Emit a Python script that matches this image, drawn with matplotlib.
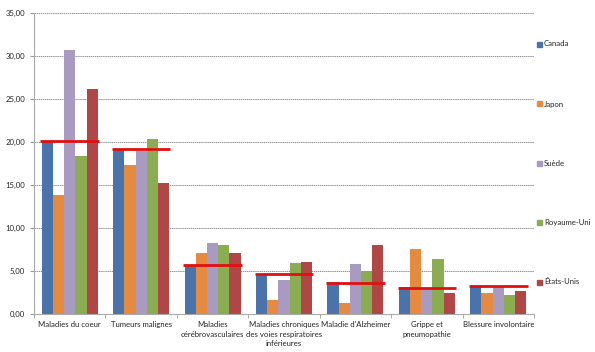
import matplotlib.pyplot as plt
import numpy as np
from matplotlib.ticker import FuncFormatter

categories = ['Maladies du coeur', 'Tumeurs malignes', 'Maladies\ncérébrovasculaires',
              'Maladies chroniques\ndes voies respiratoires\ninférieures', "Maladie d'Alzheimer",
              'Grippe et\npneumopathie', 'Blessure involontaire']
countries = ['Canada', 'Japon', 'Suède', 'Royaume-Uni', 'États-Unis']

canada = [20.0, 19.2, 5.6, 4.6, 3.7, 3.1, 3.3]
japon = [13.8, 17.3, 7.1, 1.6, 1.3, 7.6, 2.5]
suede = [30.7, 19.0, 8.3, 4.0, 5.8, 3.0, 3.1]
royaume_uni = [18.4, 20.4, 8.0, 5.9, 5.0, 6.4, 2.2]
etats_unis = [26.2, 15.2, 7.1, 6.0, 8.05, 2.4, 2.7]
reference = [20.1, 19.2, 5.7, 4.6, 3.65, 3.05, 3.2]

series = [canada, japon, suede, royaume_uni, etats_unis]
colors = ['#4a73ab', '#e58a3e', '#a89ac0', '#8aad52', '#b04645']

plt.rcParams['font.family'] = ['Lato', 'DejaVu Sans']
fs = 5.6

fig = plt.figure(figsize=(5.95, 3.52), dpi=100)
ax = fig.add_axes([34 / 595, 38 / 352, 500 / 595, 301 / 352])

x = np.arange(len(categories))
w = 0.157
for i, (vals, name, c) in enumerate(zip(series, countries, colors)):
    ax.bar(x + (i - 2) * w, vals, w, color=c, label=name, zorder=2)

# red reference marks per cause
ax.hlines(reference, x - 0.41, x + 0.41, colors='#e01010', linewidth=2, zorder=3)

ax.set_xlim(-0.5, len(categories) - 0.5)
ax.set_ylim(0, 35)
ax.set_yticks(np.arange(0, 36, 5))
ax.yaxis.set_major_formatter(FuncFormatter(lambda v, p: f'{v:.2f}'.replace('.', ',')))
ax.yaxis.grid(True, linestyle=(0, (2, 1)), color='#666666', linewidth=0.5, zorder=0)
ax.set_axisbelow(True)

ax.set_xticks(x)
ax.set_xticklabels(categories, fontsize=fs, color='#222222', linespacing=1.45)
ax.tick_params(axis='x', length=0, pad=5)
ax.set_xticks(np.arange(-0.5, len(categories), 1), minor=True)
ax.tick_params(axis='x', which='minor', length=3, color='#999999', direction='out')
ax.tick_params(axis='y', labelsize=fs, labelcolor='#222222', length=3, color='#999999')

for s in ['top', 'right']:
    ax.spines[s].set_visible(False)
ax.spines['left'].set_color('#aaaaaa')
ax.spines['bottom'].set_color('#aaaaaa')

ys = [44, 104, 163, 222, 282]
for name, c, yp in zip(countries, colors, ys):
    fy = 1 - yp / 352
    fig.patches.append(plt.Rectangle((537 / 595, fy - 2.5 / 352), 4.5 / 595, 5 / 352,
                                     transform=fig.transFigure, color=c, figure=fig))
    fig.text(544 / 595, fy, name, fontsize=fs, va='center', ha='left', color='#222222')

fig.savefig('out.png', dpi=100)
